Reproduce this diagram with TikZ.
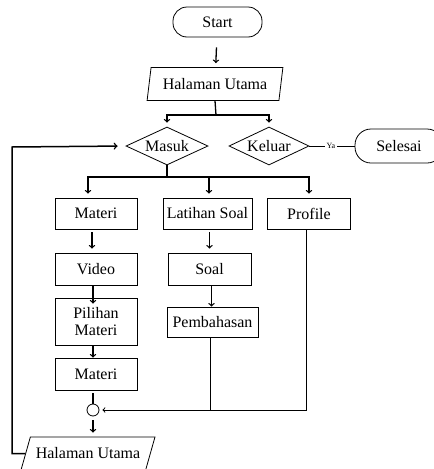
\documentclass[tikz,border=0pt]{standalone}
\usepackage{fontspec}
\setmainfont{Liberation Serif}
\usepackage{tikz}
\usetikzlibrary{shapes.geometric}

\tikzset{
  terminal/.style={draw,line width=0.8pt,rounded corners=14pt,minimum height=30pt,inner sep=2pt},
  proses/.style={draw,line width=0.8pt,minimum height=31pt,inner sep=2pt,align=center},
  datain/.style={draw,line width=0.8pt,trapezium,trapezium stretches=true,inner sep=1pt},
  pilih/.style={draw,line width=0.8pt,diamond,aspect=2.2,inner sep=0pt,minimum width=82pt,minimum height=38pt},
  garis/.style={line width=1.3pt},
  panah/.style={line width=1.3pt,->,shorten >=4pt},
}

\begin{document}
\begin{tikzpicture}[x=1pt,y=-1pt,font=\fontsize{16}{17}\selectfont]
  \clip (0,0) rectangle (434,469);
  \fill[white] (0,0) rectangle (434,469);

  % bagian atas
  \node[terminal,minimum width=89pt] (start) at (217.5,22) {Start};
  \node[datain,trapezium left angle=76,trapezium right angle=104,minimum width=136pt,minimum height=33pt] (hu1) at (215,84) {Halaman Utama};
  \node[pilih] (masuk) at (167,146) {Masuk};
  \node[pilih,minimum width=80pt] (keluar) at (269,146) {Keluar};
  \node[font=\fontsize{8}{9}\selectfont,inner sep=2pt] (ya) at (331,146) {Ya};
  \node[terminal,minimum width=88pt,minimum height=34pt,rounded corners=16pt] (selesai) at (399,146) {Selesai};

  % menu
  \node[proses,minimum width=82pt] (materi) at (96,213.5) {Materi};
  \node[proses,minimum width=89pt] (latihan) at (207.5,213.5) {Latihan Soal};
  \node[proses,minimum width=83pt] (profile) at (309,213.5) {Profile};
  \node[proses,minimum width=82pt,minimum height=32pt] (video) at (96,269) {Video};
  \node[proses,minimum width=83pt,minimum height=32pt] (soal) at (209.5,269) {Soal};
  \node[proses,minimum width=82pt,minimum height=47pt] (pilihan) at (96,321.5) {Pilihan\\Materi};
  \node[proses,minimum width=91pt,minimum height=30pt] (bahas) at (212.5,322) {Pembahasan};
  \node[proses,minimum width=82pt,minimum height=32pt] (materib) at (96,374) {Materi};
  \node[circle,draw,line width=0.8pt,minimum size=12pt,inner sep=0pt] (gabung) at (93,410) {};
  \node[datain,trapezium left angle=57,trapezium right angle=123,minimum width=134pt,minimum height=33pt] (hu2) at (88,453.5) {Halaman Utama};

  \coordinate (cab1) at (216,115);
  \coordinate (cab2) at (167,177);
  \coordinate (balik) at (12,147);

  \draw[panah,shorten <=10pt] (start) -- (hu1);
  \draw[garis] (hu1.south) -- (cab1);
  \draw[panah] (cab1) -| (masuk.north);
  \draw[panah] (cab1) -| (keluar.north);
  \draw[line width=0.8pt] (keluar.east) -- (ya) -- (selesai.west);

  \draw[garis] (masuk.south) -- (cab2);
  \draw[panah] (cab2) -| ([xshift=-8pt]materi.north);
  \draw[panah] (cab2) -| ([xshift=1.5pt]latihan.north);
  \draw[panah] (cab2) -| (profile.north);

  \draw[panah,shorten <=3pt] ([xshift=-4pt]materi.south) -- ([xshift=-4pt]video.north);
  \draw[panah,shorten >=-6pt] ([xshift=-3pt]video.south) -- ([xshift=-3pt]pilihan.north);
  \draw[panah,shorten >=0pt] ([xshift=-3pt]pilihan.south) -- ([xshift=-3pt]materib.north);
  \draw[panah,shorten <=3pt] (soal.north |- latihan.south) -- (soal.north);
  \draw[panah,shorten >=0pt] ([xshift=2pt]soal.south) -- ([xshift=2pt]soal.south |- bahas.north);

  \draw[garis,shorten <=3pt] (materib.south -| gabung) -- (gabung.north);
  \draw[panah,shorten <=4pt] (gabung) -- (gabung |- hu2.north);
  \draw[line width=1pt] ([xshift=-2pt]bahas.south) -- ([xshift=-2pt]bahas.south |- gabung);
  \draw[line width=1pt,->,shorten >=3pt] ([xshift=-3pt]profile.south) |- (gabung.east);

  % kembali ke menu
  \draw[line width=1.5pt,->,shorten >=8pt] (hu2.west) -| (balik) -- (masuk.west);
\end{tikzpicture}
\end{document}
